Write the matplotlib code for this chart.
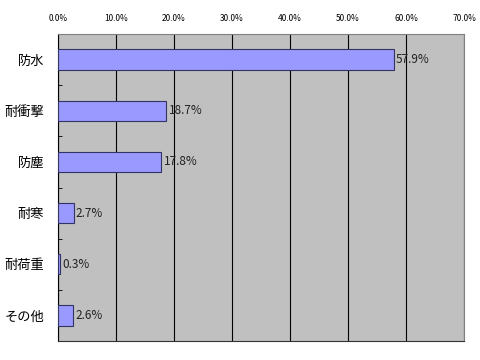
import matplotlib
matplotlib.use('Agg')
import matplotlib.pyplot as plt
import numpy as np

categories = ['防水', '耐衝撃', '防塵', '耐寒', '耐荷重', 'その他']
values = [57.9, 18.7, 17.8, 2.7, 0.3, 2.6]
xticks = [0, 10, 20, 30, 40, 50, 60, 70]

plt.rcParams['font.family'] = ['Noto Sans CJK JP', 'DejaVu Sans']

fig = plt.figure(figsize=(4.8, 3.6), dpi=100)
fig.patch.set_facecolor('white')
ax = fig.add_axes([58/480, 1 - 341/360, (464 - 58)/480, (341 - 34)/360])
ax.set_facecolor('#C0C0C0')

y = np.arange(len(categories))
ax.barh(y, values, height=0.4, color='#9999FF', edgecolor='#333366', linewidth=0.8, zorder=3)

for yi, v in zip(y, values):
    ax.text(v + 0.4, yi, f'{v:.1f}%', va='center', ha='left', fontsize=8.5, color='#222222', zorder=4)

ax.set_xlim(0, 70)
ax.set_ylim(len(categories) - 0.5, -0.5)

ax.xaxis.tick_top()
ax.set_xticks(xticks)
ax.set_xticklabels([f'{t:.1f}%' for t in xticks], fontsize=6)
ax.tick_params(axis='x', length=0, pad=8)
ax.grid(axis='x', color='black', linewidth=0.8, zorder=1)

ax.set_yticks(y)
ax.set_yticklabels(categories, fontsize=9.5)
ax.tick_params(axis='y', which='major', length=0, pad=10)
ax.set_yticks(np.arange(len(categories) + 1) - 0.5, minor=True)
ax.tick_params(axis='y', which='minor', length=3, direction='in', color='black')

ax.spines['left'].set_color('black')
ax.spines['bottom'].set_color('#333333')
ax.spines['top'].set_color('#808080')
ax.spines['right'].set_color('#808080')
for s in ax.spines.values():
    s.set_linewidth(0.8)

fig.savefig('out.png', dpi=100, facecolor='white')
